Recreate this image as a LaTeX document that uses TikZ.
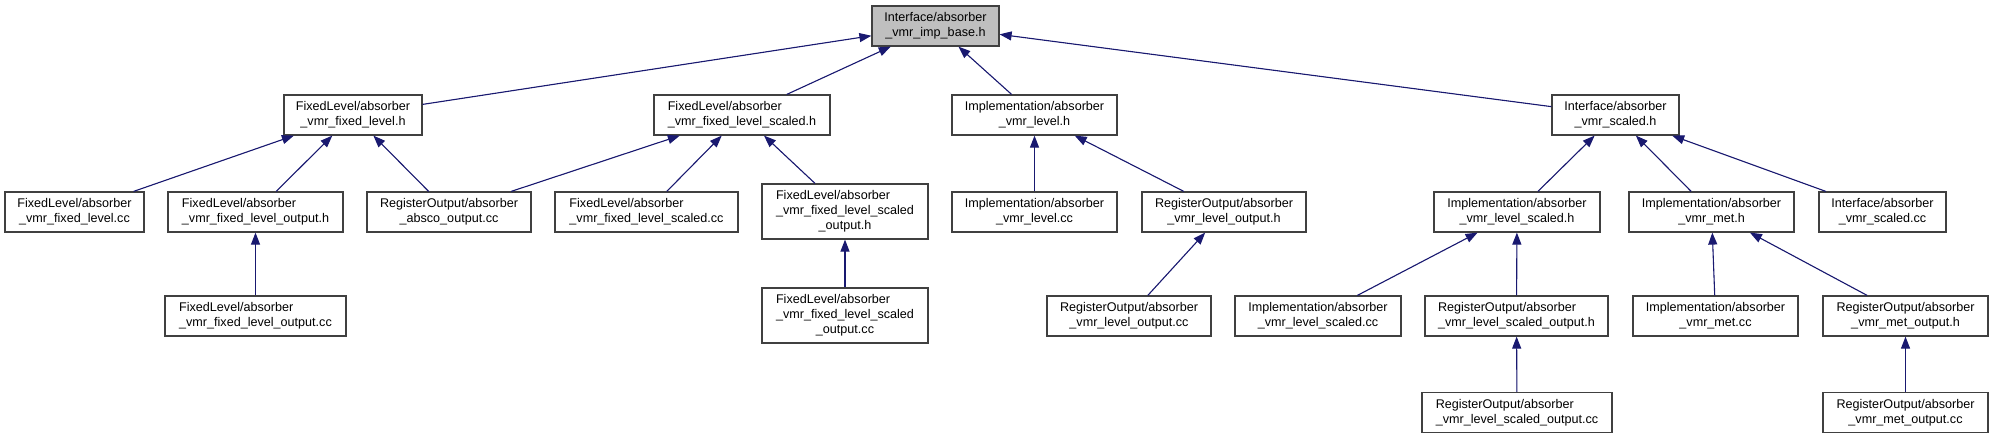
\documentclass[tikz,border=0pt]{standalone}
\usepackage{fontspec}
\setmainfont{Liberation Sans}
\usetikzlibrary{arrows.meta}
\definecolor{incblue}{HTML}{191970}
\definecolor{basegray}{HTML}{BFBFBF}
% first lines flush left, last line centred
\newcommand{\twol}[2]{\begin{tabular}{@{}c@{}}\multicolumn{1}{@{}l@{}}{#1}\\#2\end{tabular}}
\newcommand{\threel}[3]{\begin{tabular}{@{}c@{}}\multicolumn{1}{@{}l@{}}{#1}\\\multicolumn{1}{@{}l@{}}{#2}\\#3\end{tabular}}

\begin{document}
\begin{tikzpicture}[
    x=1pt, y=-1pt,
    file/.style={draw=black!75, line width=1.2pt, fill=white, inner sep=0pt, minimum height=40pt, font=\fontsize{12.6}{15}\selectfont},
    tall/.style={minimum height=55pt},
    inc/.style={-{Triangle[length=12pt, width=9pt]}, draw=incblue, fill=incblue, line width=1.1pt}
]
\useasboundingbox (0,0) rectangle (1993,439);
\node[file, fill=basegray, minimum width=127pt] (base) at (935.5,26) {\twol{Interface/absorber}{\_vmr\_imp\_base.h}};
% row 1
\node[file, minimum width=138pt] (flh) at (353,115) {\twol{FixedLevel/absorber}{\_vmr\_fixed\_level.h}};
\node[file, minimum width=176pt] (flsh) at (742,115) {\twol{FixedLevel/absorber}{\_vmr\_fixed\_level\_scaled.h}};
\node[file, minimum width=165pt] (lvlh) at (1034.5,115) {\twol{Implementation/absorber}{\_vmr\_level.h}};
\node[file, minimum width=127pt] (sclh) at (1615.5,115) {\twol{Interface/absorber}{\_vmr\_scaled.h}};
% row 2
\node[file, minimum width=139pt] (flcc) at (74.5,212) {\twol{FixedLevel/absorber}{\_vmr\_fixed\_level.cc}};
\node[file, minimum width=175pt] (floh) at (255.5,212) {\twol{FixedLevel/absorber}{\_vmr\_fixed\_level\_output.h}};
\node[file, minimum width=164pt] (absco) at (449,212) {\twol{RegisterOutput/absorber}{\_absco\_output.cc}};
\node[file, minimum width=183pt] (flscc) at (646.5,212) {\twol{FixedLevel/absorber}{\_vmr\_fixed\_level\_scaled.cc}};
\node[file, tall, minimum width=166pt] (flsoh) at (845,211.5) {\threel{FixedLevel/absorber}{\_vmr\_fixed\_level\_scaled}{\_output.h}};
\node[file, minimum width=165pt] (lvlcc) at (1034.5,212) {\twol{Implementation/absorber}{\_vmr\_level.cc}};
\node[file, minimum width=164pt] (lvloh) at (1224,212) {\twol{RegisterOutput/absorber}{\_vmr\_level\_output.h}};
\node[file, minimum width=166pt] (lvlsh) at (1517,212) {\twol{Implementation/absorber}{\_vmr\_level\_scaled.h}};
\node[file, minimum width=165pt] (meth) at (1711.5,212) {\twol{Implementation/absorber}{\_vmr\_met.h}};
\node[file, minimum width=127pt] (sclcc) at (1882.5,212) {\twol{Interface/absorber}{\_vmr\_scaled.cc}};
% row 3
\node[file, minimum width=181pt] (flocc) at (255.5,316) {\twol{FixedLevel/absorber}{\_vmr\_fixed\_level\_output.cc}};
\node[file, tall, minimum width=166pt] (flsocc) at (845,315.5) {\threel{FixedLevel/absorber}{\_vmr\_fixed\_level\_scaled}{\_output.cc}};
\node[file, minimum width=164pt] (lvlocc) at (1129,316) {\twol{RegisterOutput/absorber}{\_vmr\_level\_output.cc}};
\node[file, minimum width=166pt] (lvlscc) at (1318,316) {\twol{Implementation/absorber}{\_vmr\_level\_scaled.cc}};
\node[file, minimum width=183pt] (lvlsoh) at (1516.5,316) {\twol{RegisterOutput/absorber}{\_vmr\_level\_scaled\_output.h}};
\node[file, minimum width=165pt] (metcc) at (1715.5,316) {\twol{Implementation/absorber}{\_vmr\_met.cc}};
\node[file, minimum width=165pt] (metoh) at (1905.5,316) {\twol{RegisterOutput/absorber}{\_vmr\_met\_output.h}};
% row 4
\node[file, minimum width=190pt] (lvlsocc) at (1517,412.5) {\twol{RegisterOutput/absorber}{\_vmr\_level\_scaled\_output.cc}};
\node[file, minimum width=165pt] (metocc) at (1905.5,412.5) {\twol{RegisterOutput/absorber}{\_vmr\_met\_output.cc}};
% includes
\draw[inc] (flh) -- (base);
\draw[inc] (flsh) -- (base);
\draw[inc] (lvlh) -- (base);
\draw[inc] (sclh) -- (base);
\draw[inc] (flcc) -- (flh);
\draw[inc] (floh) -- (flh);
\draw[inc] (absco) -- (flh);
\draw[inc] (absco) -- (flsh);
\draw[inc] (flscc) -- (flsh);
\draw[inc] (flsoh) -- (flsh);
\draw[inc] (flocc) -- (floh);
\draw[inc] (flsocc) -- (flsoh);
\draw[inc] (lvlcc) -- (lvlh);
\draw[inc] (lvloh) -- (lvlh);
\draw[inc] (lvlocc) -- (lvloh);
\draw[inc] (lvlsh) -- (sclh);
\draw[inc] (meth) -- (sclh);
\draw[inc] (sclcc) -- (sclh);
\draw[inc] (lvlscc) -- (lvlsh);
\draw[inc] (lvlsoh) -- (lvlsh);
\draw[inc] (lvlsocc) -- (lvlsoh);
\draw[inc] (metcc) -- (meth);
\draw[inc] (metoh) -- (meth);
\draw[inc] (metocc) -- (metoh);
\end{tikzpicture}
\end{document}
